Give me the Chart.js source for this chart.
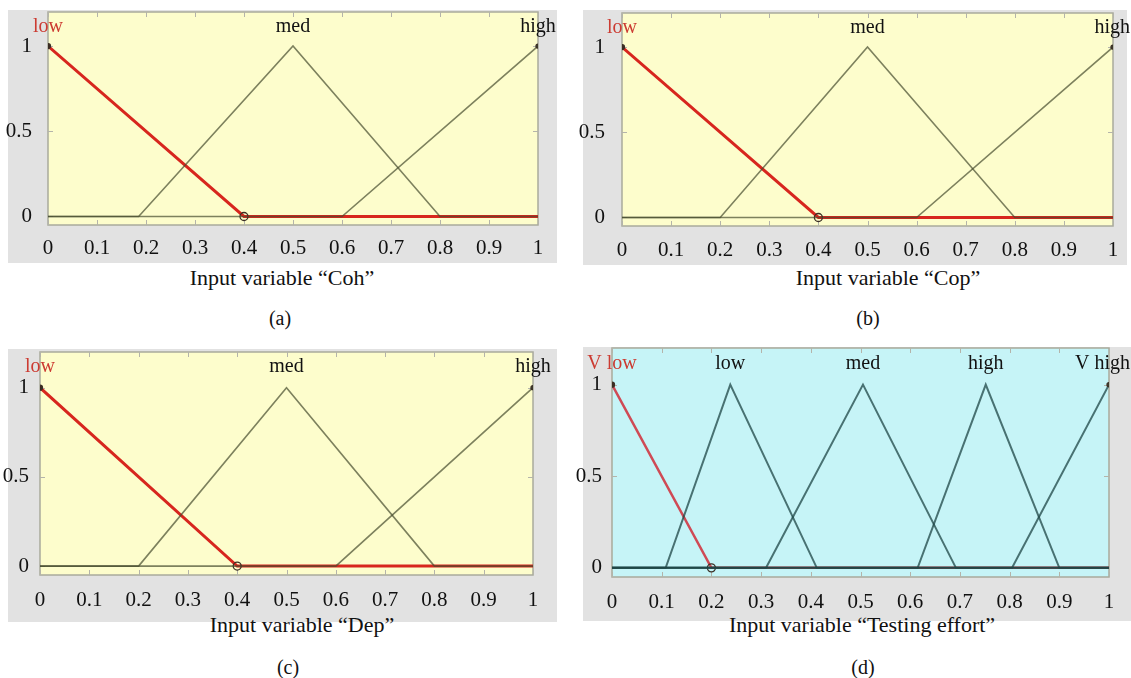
<!DOCTYPE html>
<html>
<head>
<meta charset="utf-8">
<script src="https://cdn.jsdelivr.net/npm/chart.js@4.4.1/dist/chart.umd.min.js"></script>
<style>
  html, body { margin: 0; padding: 0; background: #fff; }
  body { width: 1131px; height: 678px; position: relative; overflow: hidden; font-family: 'Liberation Serif', 'Times New Roman', serif; }
  .frame { position: absolute; background: #e2e2e2; }
  canvas { position: absolute; }
  .cap { position: absolute; font-size: 22px; line-height: 1; color: #111; transform: translate(-50%, -50%); white-space: nowrap; }
</style>
</head>
<body>
<script>
// axis ticks
const xTicks = [0, 0.1, 0.2, 0.3, 0.4, 0.5, 0.6, 0.7, 0.8, 0.9, 1];
const xTickLabels = ['0', '0.1', '0.2', '0.3', '0.4', '0.5', '0.6', '0.7', '0.8', '0.9', '1'];
const yTicks = [0, 0.5, 1];
const yTickLabels = ['0', '0.5', '1'];

// linguistic terms
const termsThree = ['low', 'med', 'high'];
const termsFive = ['V low', 'low', 'med', 'high', 'V high'];

// membership functions, [x, degree] breakpoints
const cohLow = [[0, 1], [0.4, 0], [1, 0]];
const cohMed = [[0, 0], [0.185, 0], [0.5, 1], [0.8, 0], [1, 0]];
const cohHigh = [[0, 0], [0.6, 0], [1, 1]];

const copLow = [[0, 1], [0.4, 0], [1, 0]];
const copMed = [[0, 0], [0.2, 0], [0.5, 1], [0.8, 0], [1, 0]];
const copHigh = [[0, 0], [0.6, 0], [1, 1]];

const depLow = [[0, 1], [0.4, 0], [1, 0]];
const depMed = [[0, 0], [0.2, 0], [0.5, 1], [0.8, 0], [1, 0]];
const depHigh = [[0, 0], [0.6, 0], [1, 1]];

const teVLow = [[0, 1], [0.2, 0], [1, 0]];
const teLow = [[0, 0], [0.108, 0], [0.238, 1], [0.412, 0], [1, 0]];
const teMed = [[0, 0], [0.31, 0], [0.505, 1], [0.692, 0], [1, 0]];
const teHigh = [[0, 0], [0.615, 0], [0.752, 1], [0.9, 0], [1, 0]];
const teVHigh = [[0, 0], [0.805, 0], [1, 1]];

const axisTitles = ['Input variable \u201cCoh\u201d', 'Input variable \u201cCop\u201d', 'Input variable \u201cDep\u201d', 'Input variable \u201cTesting effort\u201d'];
const captions = ['(a)', '(b)', '(c)', '(d)'];

const SERIF = "'Liberation Serif', 'Times New Roman', serif";

// MATLAB-ish axes: coloured plot box, border and inward ticks
const matlabAxes = {
  id: 'matlabAxes',
  beforeDatasetsDraw(chart, args, opts) {
    const { ctx, chartArea: a, scales: { x, y } } = chart;
    ctx.save();
    ctx.fillStyle = opts.bg;
    ctx.fillRect(a.left, a.top, a.right - a.left, a.bottom - a.top);
    ctx.strokeStyle = '#a9aa9c';
    ctx.lineWidth = 1.5;
    ctx.strokeRect(a.left, a.top, a.right - a.left, a.bottom - a.top);
    ctx.strokeStyle = '#b4b4aa';
    ctx.lineWidth = 1;
    ctx.beginPath();
    xTicks.forEach(v => {
      const px = Math.round(x.getPixelForValue(v)) + 0.5;
      ctx.moveTo(px, a.top); ctx.lineTo(px, a.top + 5);
      ctx.moveTo(px, a.bottom); ctx.lineTo(px, a.bottom - 5);
    });
    yTicks.forEach(v => {
      const py = Math.round(y.getPixelForValue(v)) + 0.5;
      ctx.moveTo(a.left, py); ctx.lineTo(a.left + 5, py);
      ctx.moveTo(a.right, py); ctx.lineTo(a.right - 5, py);
    });
    ctx.stroke();
    ctx.restore();
  }
};

// term names above each membership peak (kept inside the canvas)
const termLabels = {
  id: 'termLabels',
  afterDraw(chart, args, opts) {
    const { ctx, scales: { x, y } } = chart;
    ctx.save();
    ctx.font = '20px ' + SERIF;
    ctx.textAlign = 'center';
    ctx.textBaseline = 'middle';
    chart.data.datasets.forEach((ds, i) => {
      const peak = ds.data.reduce((m, p) => (p.y > m.y ? p : m));
      const half = ctx.measureText(opts.terms[i]).width / 2;
      const px = Math.max(half + 1, Math.min(x.getPixelForValue(peak.x), chart.width - half - 1));
      ctx.fillStyle = i === 0 ? '#cc3b32' : '#111';
      ctx.fillText(opts.terms[i], px, y.getPixelForValue(1.115));
    });
    ctx.restore();
  }
};

const panels = [
  { mfs: [cohLow, cohMed, cohHigh], terms: termsThree, bg: '#fdfdcc', line: 'rgba(70,75,45,0.7)', lineW: 1.6, red: '#d7261e', redW: 3,
    box: [0, 0, 575, 262], area: [48, 12, 538, 225], frame: [8, 10, 549, 253], yPad: 8, xPad: 3, titleAt: [282, 278], capAt: [280, 318] },
  { mfs: [copLow, copMed, copHigh], terms: termsThree, bg: '#fdfdcc', line: 'rgba(70,75,45,0.7)', lineW: 1.6, red: '#d7261e', redW: 3,
    box: [575, 0, 556, 262], area: [622, 13, 1113, 226], frame: [583, 10, 544, 255], yPad: 9, xPad: 4, titleAt: [888, 278], capAt: [868, 318] },
  { mfs: [depLow, depMed, depHigh], terms: termsThree, bg: '#fdfdcc', line: 'rgba(70,75,45,0.7)', lineW: 1.6, red: '#d7261e', redW: 3,
    box: [0, 340, 575, 272], area: [40, 352, 533, 575], frame: [8, 349, 549, 273], yPad: 3, xPad: 5, titleAt: [302, 625], capAt: [288, 667] },
  { mfs: [teVLow, teLow, teMed, teHigh, teVHigh], terms: termsFive, bg: '#c6f4f7', line: 'rgba(30,70,70,0.75)', lineW: 2, red: '#cf4a55', redW: 2.5,
    box: [575, 340, 556, 272], area: [612, 348, 1109, 577], frame: [583, 347, 548, 274], yPad: 2, xPad: 5, titleAt: [862, 625], capAt: [863, 667] },
];

panels.forEach((p, k) => {
  const fr = document.createElement('div');
  fr.className = 'frame';
  Object.assign(fr.style, { left: p.frame[0] + 'px', top: p.frame[1] + 'px', width: p.frame[2] + 'px', height: p.frame[3] + 'px' });
  document.body.appendChild(fr);

  const [bx, by, bw, bh] = p.box;
  const [al, at, ar, ab] = p.area;
  const cv = document.createElement('canvas');
  cv.width = bw; cv.height = bh;
  Object.assign(cv.style, { left: bx + 'px', top: by + 'px', width: bw + 'px', height: bh + 'px' });
  document.body.appendChild(cv);

  [[axisTitles[k], p.titleAt], [captions[k], p.capAt]].forEach(([txt, pos], j) => {
    const d = document.createElement('div');
    d.className = 'cap';
    if (j === 1) d.style.fontSize = '20px';
    d.textContent = txt;
    d.style.left = pos[0] + 'px';
    d.style.top = pos[1] + 'px';
    document.body.appendChild(d);
  });

  const last = p.mfs.length - 1;
  new Chart(cv, {
    type: 'line',
    data: {
      datasets: p.mfs.map((pts, i) => ({
        data: pts.map(([x, y]) => ({ x, y })),
        borderColor: i === 0 ? p.red : p.line,
        borderWidth: i === 0 ? p.redW : p.lineW,
        order: i === 0 ? 1 : 0,
        tension: 0,
        fill: false,
        pointRadius: i === 0 ? [2.5, 4, 0] : (i === last ? pts.map((_, j) => (j === pts.length - 1 ? 2 : 0)) : 0),
        pointBackgroundColor: i === 0 ? ['#3b2b22', 'rgba(0,0,0,0)', 'rgba(0,0,0,0)'] : '#3b3b2b',
        pointBorderColor: '#3b2f25',
        pointBorderWidth: 1.3,
      })),
    },
    options: {
      responsive: false,
      animation: false,
      events: [],
      layout: { padding: { left: 0, top: at - by, right: bx + bw - ar, bottom: 0 } },
      plugins: {
        legend: { display: false },
        tooltip: { enabled: false },
        matlabAxes: { bg: p.bg },
        termLabels: { terms: p.terms },
      },
      scales: {
        x: {
          type: 'linear', min: 0, max: 1,
          afterBuildTicks: s => { s.ticks = xTicks.map(v => ({ value: v })); },
          afterFit: s => { s.height = by + bh - ab; s.paddingLeft = 0; s.paddingRight = 0; },
          grid: { display: false }, border: { display: false },
          ticks: { padding: p.xPad, color: '#111', autoSkip: false, maxRotation: 0, font: { family: SERIF, size: 21 }, callback: (v, i) => xTickLabels[i] },
        },
        y: {
          type: 'linear', min: -0.05, max: 1.2,
          afterBuildTicks: s => { s.ticks = yTicks.map(v => ({ value: v })); },
          afterFit: s => { s.width = al - bx; s.paddingTop = 0; s.paddingBottom = 0; },
          grid: { display: false }, border: { display: false },
          ticks: { padding: p.yPad, color: '#111', font: { family: SERIF, size: 21 }, callback: (v, i) => yTickLabels[i] },
        },
      },
    },
    plugins: [matlabAxes, termLabels],
  });
});
</script>
</body>
</html>
